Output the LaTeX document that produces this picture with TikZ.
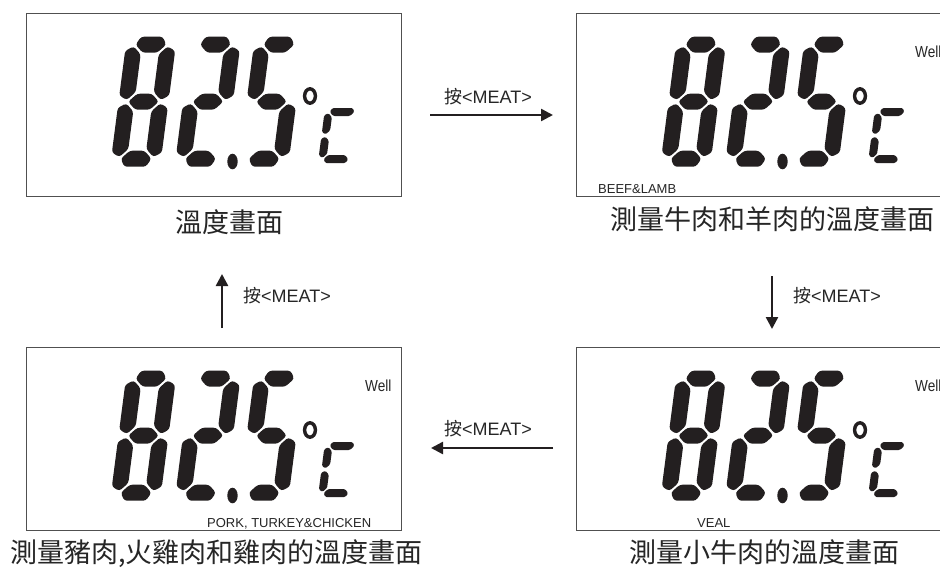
\documentclass[tikz,border=0pt]{standalone}
\usepackage{fontspec}
\usepackage{graphicx}
\setmainfont{Liberation Sans}
\newfontfamily\cjk{Noto Sans CJK TC}
\usetikzlibrary{arrows.meta}
\definecolor{ink}{RGB}{35,31,32}
\definecolor{frame}{RGB}{80,80,80}
% LCD segments in local coords (y down). Centre lines: x=+-\lcda, y=+-\lcdb, 0.
% \lcdh half thickness, \lcdo outer bevel, \lcdg gap, \lcdr corner rounding
\newcommand\hseg[3]{\fill[ink, rounded corners=\lcdr] ({-(\lcda-\lcdg)},{#1}) -- ({-(\lcda-\lcdg)+(#2)},{(#1)-\lcdh}) -- ({(\lcda-\lcdg)-(#2)},{(#1)-\lcdh}) -- ({\lcda-\lcdg},{#1}) -- ({(\lcda-\lcdg)-(#3)},{(#1)+\lcdh}) -- ({-(\lcda-\lcdg)+(#3)},{(#1)+\lcdh}) -- cycle;}
\newcommand\vsegx[4]{\fill[ink, rounded corners=\lcdr] ({#1},{(#2)-(\lcdb/2-\lcdg)}) -- ({(#1)+\lcdh},{(#2)-(\lcdb/2-\lcdg)+(#4)}) -- ({(#1)+\lcdh},{(#2)+(\lcdb/2-\lcdg)-(#4)}) -- ({#1},{(#2)+(\lcdb/2-\lcdg)}) -- ({(#1)-\lcdh},{(#2)+(\lcdb/2-\lcdg)-(#3)}) -- ({(#1)-\lcdh},{(#2)-(\lcdb/2-\lcdg)+(#3)}) -- cycle;}
\newcommand\segA{\hseg{-\lcdb}{\lcdo}{\lcdh}}
\newcommand\segD{\hseg{\lcdb}{\lcdh}{\lcdo}}
\newcommand\segG{\hseg{0}{\lcdh}{\lcdh}}
\newcommand\segF{\vsegx{-\lcda}{-\lcdb/2}{\lcdo}{\lcdh}}
\newcommand\segB{\vsegx{\lcda}{-\lcdb/2}{\lcdh}{\lcdo}}
\newcommand\segE{\vsegx{-\lcda}{\lcdb/2}{\lcdo}{\lcdh}}
\newcommand\segC{\vsegx{\lcda}{\lcdb/2}{\lcdh}{\lcdo}}
\newcommand\lcdglyph[2]{\begin{scope}[shift={#1}, xslant=0.13] #2 \end{scope}}
\newcommand\lcdpanel[2]{%
 \begin{scope}[shift={(#1,#2)}]
  \def\lcda{17}\def\lcdb{57}\def\lcdh{8}\def\lcdo{4.5}\def\lcdg{1.7}\def\lcdr{2.8pt}
  \lcdglyph{(143.5,101.7)}{\segA\segB\segC\segD\segE\segF\segG}
  \lcdglyph{(208,101.7)}{\segA\segB\segG\segE\segD}
  \lcdglyph{(271.5,101.7)}{\segA\segF\segG\segC\segD}
  \fill[ink] (232.5,161.5) ellipse (5.2 and 7.8);
  \draw[ink, line width=3.4pt] (310,96) ellipse (5.4 and 7.2);
  \def\lcda{13.5}\def\lcdb{23.5}\def\lcdh{4}\def\lcdo{2.2}\def\lcdg{1.2}\def\lcdr{1.3pt}
  \lcdglyph{(339,135.5)}{\segA\segF\segE\segD}
 \end{scope}}
\tikzset{
 lcdbox/.style={draw=frame, line width=0.9pt, anchor=north west, minimum height=183pt, inner sep=0pt},
 captext/.style={font=\cjk\fontsize{27}{27}\selectfont, text=black!85, inner sep=0pt},
 lab/.style={font=\fontsize{18}{18}\selectfont, text=black!85, inner sep=0pt},
 smalltext/.style={font=\fontsize{13}{13}\selectfont, text=black!85, inner sep=0pt},
 wellstyle/.style={font=\fontsize{16}{16}\selectfont, text=black!85, inner sep=0pt, anchor=base west},
 arr/.style={ink, line width=2.5pt, -{Triangle[length=12pt,width=12pt]}}
}
\begin{document}
\begin{tikzpicture}[x=1pt, y=-1pt]
\useasboundingbox (0,0) rectangle (940,568);
\clip (0,0) rectangle (940,568);
\fill[white] (0,0) rectangle (940,568);
% display frames
\node[lcdbox, minimum width=375pt] (p1) at (26,13) {};
\node[lcdbox, minimum width=380pt] (p2) at (576,13) {};
\node[lcdbox, minimum width=375pt] (p4) at (26,347) {};
\node[lcdbox, minimum width=380pt] (p3) at (576,347) {};
% digits
\lcdpanel{0}{0}
\lcdpanel{550}{0}
\lcdpanel{0}{334}
\lcdpanel{550}{334}
% small display texts
\node[wellstyle] (w2) at (915,57) {\scalebox{0.85}[1]{Well}};
\node[wellstyle] (w4) at (365,391) {\scalebox{0.85}[1]{Well}};
\node[wellstyle] (w3) at (915,391) {\scalebox{0.85}[1]{Well}};
\node[smalltext, anchor=base west] (t2) at (598,193) {BEEF\&LAMB};
\node[smalltext, anchor=base west] (t4) at (207,527) {PORK, TURKEY\&CHICKEN};
\node[smalltext, anchor=base west] (t3) at (697,527) {VEAL};
% captions
\node[captext] (c1) at (229,222) {溫度畫面};
\node[captext] (c2) at (772,219) {測量牛肉和羊肉的溫度畫面};
\node[captext, anchor=west] (c4) at (10,554) {測量豬肉,火雞肉和雞肉的溫度畫面};
\node[captext] (c3) at (764,552) {測量小牛肉的溫度畫面};
% arrows
\coordinate (a1s) at (430,115); \coordinate (a1e) at (553,115);
\coordinate (a2s) at (772,276); \coordinate (a2e) at (772,329);
\coordinate (a3s) at (553,448); \coordinate (a3e) at (431,448);
\coordinate (a4s) at (222,328); \coordinate (a4e) at (222,274);
\draw[arr] (a1s) -- (a1e);
\draw[arr] (a2s) -- (a2e);
\draw[arr] (a3s) -- (a3e);
\draw[arr] (a4s) -- (a4e);
\node[lab, anchor=base] (l1) at (488,103) {{\cjk 按}<MEAT>};
\node[lab, anchor=base west] (l2) at (793,302) {{\cjk 按}<MEAT>};
\node[lab, anchor=base] (l3) at (488,435) {{\cjk 按}<MEAT>};
\node[lab, anchor=base west] (l4) at (243,302) {{\cjk 按}<MEAT>};
\end{tikzpicture}
\end{document}
